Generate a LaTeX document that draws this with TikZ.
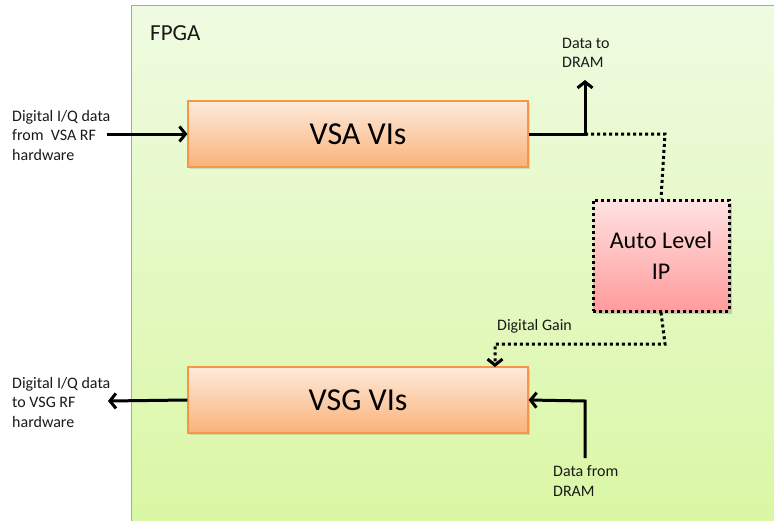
\documentclass[tikz,border=0pt]{standalone}
\usepackage{fontspec}
\setmainfont{Carlito}
\usetikzlibrary{arrows.meta,shadows}
\definecolor{fpgaTop}{HTML}{EFFBE2}
\definecolor{fpgaBot}{HTML}{DAF7A4}
\definecolor{fpgaLine}{HTML}{9BBB59}
\definecolor{orTop}{HTML}{FDEADB}
\definecolor{orBot}{HTML}{FAB27A}
\definecolor{orLine}{HTML}{F79646}
\definecolor{pkTop}{HTML}{FFE2E2}
\definecolor{pkBot}{HTML}{FF9B9B}
\tikzset{
  vibox/.style={draw=orLine, line width=1.2pt, top color=orTop, bottom color=orBot,
    minimum width=340pt, minimum height=66pt, inner sep=0pt,
    font=\fontsize{32}{36}\selectfont,
    drop shadow={shadow xshift=1.5pt, shadow yshift=-1.5pt, opacity=0.25}},
  ipbox/.style={draw=black, line width=3pt, dash pattern=on 3pt off 3pt,
    top color=pkTop, bottom color=pkBot,
    minimum width=136pt, minimum height=111pt, inner sep=0pt, align=center,
    font=\fontsize{24}{31}\selectfont,
    drop shadow={shadow xshift=2.5pt, shadow yshift=-2.5pt, opacity=0.35}},
  lbl/.style={font=\fontsize{16}{19.5}\selectfont, align=left, inner sep=0pt, text=black!90},
  wire/.style={line width=3pt, draw=black},
  dwire/.style={line width=3pt, draw=black, dash pattern=on 3pt off 3pt},
  tip/.style={-{Straight Barb[length=6pt,width=15pt,line width=3pt]}}
}
\begin{document}
\begin{tikzpicture}[x=1pt,y=-1pt]
\useasboundingbox (0,0) rectangle (774,520);
% FPGA region
\path[draw=fpgaLine, line width=1pt, top color=fpgaTop, bottom color=fpgaBot]
  (131,5) rectangle (778,524);
\node[lbl, anchor=west, font=\fontsize{23}{26}\selectfont] (fpga) at (150,33) {FPGA};

% blocks
\node[vibox] (vsa) at (358,134) {VSA VIs};
\node[vibox] (vsg) at (358,400) {VSG VIs};
\node[ipbox] (ip) at (661,255.5) {Auto Level\\IP};

% coordinates
\coordinate (inL) at (107,134);
\coordinate (outL) at (108,401);
\coordinate (j1) at (585,134);
\coordinate (dtop) at (585,80);
\coordinate (k1) at (665,134);
\coordinate (g1) at (665,344);
\coordinate (g2) at (495,344);
\coordinate (g3) at (495,367);
\coordinate (d1) at (585,458);
\coordinate (d2) at (585,401);

% labels
\node[lbl, anchor=west] (inlbl) at (12,135) {Digital I/Q data\\from~ VSA RF\\hardware};
\node[lbl, anchor=west] (outlbl) at (12,402) {Digital I/Q data\\to VSG RF\\hardware};
\node[lbl, anchor=west] (dtolbl) at (562,53) {Data to\\DRAM};
\node[lbl, anchor=west] (dfromlbl) at (553,481) {Data from\\DRAM};
\node[lbl, anchor=west] (gainlbl) at (497,326) {Digital Gain};

% connectors
\draw[wire, tip] (inL) -- (vsa.west);
\draw[wire, tip] (vsg.west) -- (outL);
\draw[wire, tip] (vsa.east) -- (j1) -- (dtop);
\draw[dwire] (j1) -- (k1) -- (ip.north);
\draw[dwire, tip] (ip.south) -- (g1) -- (g2) -- (g3);
\draw[wire, tip] (d1) -- (d2) -- (vsg.east);
\end{tikzpicture}
\end{document}
